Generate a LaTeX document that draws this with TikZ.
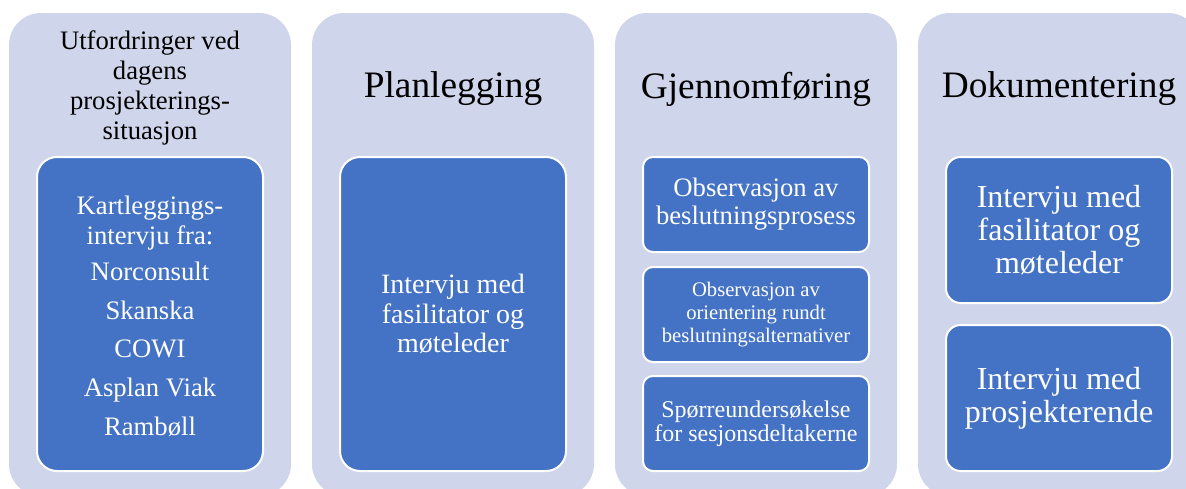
\documentclass[tikz,border=0pt]{standalone}
\usepackage{fontspec}
\setmainfont{Liberation Serif}
\definecolor{lanefill}{HTML}{CFD5EA}
\definecolor{cardfill}{HTML}{4472C4}
\tikzset{
  lane/.style={fill=lanefill, draw=none, rounded corners=24pt,
    minimum width=211.5pt, minimum height=362.25pt, inner sep=0pt},
  card/.style={fill=cardfill, draw=white, line width=1.5pt, text=white,
    align=center, minimum width=169.5pt, inner sep=0pt},
  lanetitle/.style={align=center, text=black, inner sep=0pt},
}
\begin{document}
\begin{tikzpicture}[x=0.75pt,y=-0.75pt]
\useasboundingbox (0,0) rectangle (1186,489);
\clip (0,0) rectangle (1186,489);

% four phase lanes
\node[lane] (lane1) at (150,254.5) {};
\node[lane] (lane2) at (453,254.5) {};
\node[lane] (lane3) at (756,254.5) {};
\node[lane] (lane4) at (1059,254.5) {};

% lane headings
\node[lanetitle, font=\fontsize{20}{22.3}\selectfont] (title1) at (150,88)
  {Utfordringer ved\\dagens\\prosjekterings-\\situasjon};
\node[lanetitle, font=\fontsize{28}{30}\selectfont] (title2) at (453,89) {Planlegging};
\node[lanetitle, font=\fontsize{28}{30}\selectfont] (title3) at (756,89) {Gjennomføring};
\node[lanetitle, font=\fontsize{28}{30}\selectfont] (title4) at (1059,89) {Dokumentering};

% lane 1: card box and its centred text
\node[card, rounded corners=15pt, minimum height=235.5pt] (survey) at (150,314) {};
\node[align=center, text=white, inner sep=0pt,
      font=\fontsize{20}{22.5}\selectfont] (surveytext) at (150,316)
  {Kartleggings-\\intervju fra:\\[4.5pt]Norconsult\\[6.5pt]Skanska\\[6.5pt]COWI\\[6.5pt]Asplan Viak\\[6.5pt]Rambøll};

% lane 2
\node[card, rounded corners=15pt, minimum height=235.5pt,
      font=\fontsize{21}{22}\selectfont] (plan) at (453,314)
  {Intervju med\\fasilitator og\\møteleder};

% lane 3
\node[card, rounded corners=7.5pt, minimum height=71.25pt,
      font=\fontsize{20}{21}\selectfont] (obs1) at (756,204.5)
  {Observasjon av\\beslutningsprosess};
\node[card, rounded corners=7.5pt, minimum height=71.25pt,
      font=\fontsize{15.5}{17.25}\selectfont] (obs2) at (756,314.5)
  {Observasjon av\\orientering rundt\\beslutningsalternativer};
\node[card, rounded corners=7.5pt, minimum height=71.25pt,
      font=\fontsize{18}{18}\selectfont] (quest) at (756,423.5)
  {Spørreundersøkelse\\for sesjonsdeltakerne};

% lane 4
\node[card, rounded corners=11pt, minimum height=109.5pt,
      font=\fontsize{24}{25}\selectfont] (doc1) at (1059,230)
  {Intervju med\\fasilitator og\\møteleder};
\node[card, rounded corners=11pt, minimum height=109.5pt,
      font=\fontsize{24}{25}\selectfont] (doc2) at (1059,398)
  {Intervju med\\prosjekterende};
\end{tikzpicture}
\end{document}
